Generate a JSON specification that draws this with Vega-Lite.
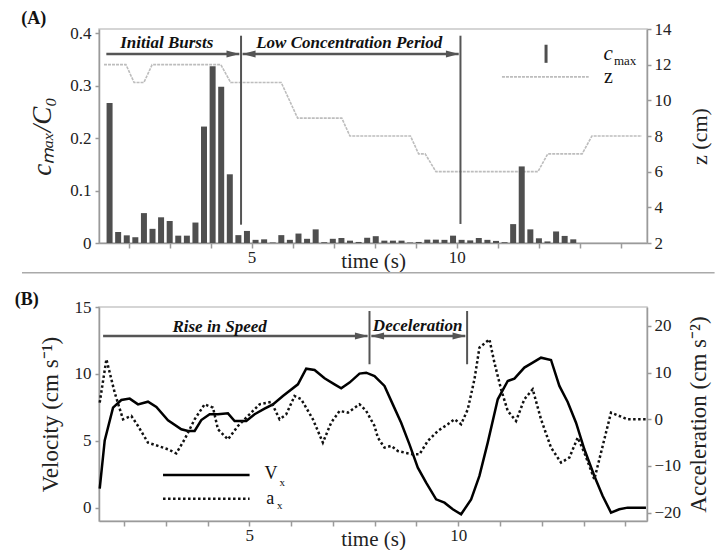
{
"$schema": "https://vega.github.io/schema/vega-lite/v6.json",
"background": "white",
"padding": {"left": 14, "top": 9, "right": 0, "bottom": 0},
"spacing": 15,
"datasets": {
"bars": [
{"t":1.536,"c":0.267},{"t":1.745,"c":0.021},{"t":1.955,"c":0.0146},{"t":2.164,"c":0.011},{"t":2.374,"c":0.057},{"t":2.583,"c":0.027},{"t":2.792,"c":0.049},{"t":3.002,"c":0.042},{"t":3.211,"c":0.014},{"t":3.421,"c":0.014},{"t":3.630,"c":0.039},{"t":3.839,"c":0.222},{"t":4.049,"c":0.337},{"t":4.258,"c":0.298},{"t":4.468,"c":0.131},{"t":4.677,"c":0.015},{"t":4.886,"c":0.023},{"t":5.096,"c":0.006},{"t":5.305,"c":0.007},{"t":5.515,"c":0.001},{"t":5.724,"c":0.015},{"t":5.933,"c":0.006},{"t":6.143,"c":0.018},{"t":6.352,"c":0.008},{"t":6.562,"c":0.026},{"t":6.771,"c":0.0015},{"t":6.980,"c":0.008},{"t":7.190,"c":0.0095},{"t":7.399,"c":0.0045},{"t":7.609,"c":0.002},{"t":7.818,"c":0.010},{"t":8.027,"c":0.013},{"t":8.237,"c":0.0045},{"t":8.446,"c":0.0045},{"t":8.656,"c":0.0045},{"t":8.865,"c":0.001},{"t":9.074,"c":0.002},{"t":9.284,"c":0.0064},{"t":9.493,"c":0.0064},{"t":9.703,"c":0.006},{"t":9.912,"c":0.014},{"t":10.121,"c":0.006},{"t":10.331,"c":0.005},{"t":10.540,"c":0.0095},{"t":10.750,"c":0.006},{"t":10.959,"c":0.004},{"t":11.168,"c":0.0015},{"t":11.378,"c":0.036},{"t":11.587,"c":0.146},{"t":11.797,"c":0.026},{"t":12.006,"c":0.009},{"t":12.215,"c":0.003},{"t":12.425,"c":0.022},{"t":12.634,"c":0.0135},{"t":12.844,"c":0.007}
],
"z": [
{"t":1.40,"z":12},{"t":1.935,"z":12},{"t":2.134,"z":11},{"t":2.373,"z":11},{"t":2.574,"z":12},{"t":4.249,"z":12},{"t":4.488,"z":11},{"t":5.722,"z":11},{"t":6.122,"z":9},{"t":7.199,"z":9},{"t":7.397,"z":8},{"t":8.873,"z":8},{"t":9.072,"z":7},{"t":9.232,"z":7},{"t":9.495,"z":6},{"t":11.983,"z":6},{"t":12.222,"z":7},{"t":13.06,"z":7},{"t":13.299,"z":8},{"t":14.52,"z":8}
],
"vx": [
{"t":1.417,"v":1.42},{"t":1.537,"v":5.03},{"t":1.736,"v":7.48},{"t":1.935,"v":8.05},{"t":2.135,"v":8.15},{"t":2.334,"v":7.72},{"t":2.573,"v":7.92},{"t":2.773,"v":7.53},{"t":3.052,"v":6.53},{"t":3.371,"v":5.86},{"t":3.530,"v":5.73},{"t":3.690,"v":5.73},{"t":3.849,"v":6.55},{"t":4.049,"v":6.98},{"t":4.248,"v":6.98},{"t":4.487,"v":7.05},{"t":4.647,"v":6.48},{"t":4.926,"v":6.48},{"t":5.125,"v":6.98},{"t":5.364,"v":7.40},{"t":5.564,"v":7.72},{"t":5.803,"v":8.35},{"t":6.162,"v":9.22},{"t":6.361,"v":10.39},{"t":6.561,"v":10.29},{"t":6.800,"v":9.67},{"t":7.039,"v":9.22},{"t":7.199,"v":8.92},{"t":7.398,"v":9.35},{"t":7.637,"v":10.02},{"t":7.797,"v":10.09},{"t":7.996,"v":9.84},{"t":8.235,"v":9.10},{"t":8.434,"v":7.72},{"t":8.634,"v":6.35},{"t":8.833,"v":4.73},{"t":9.033,"v":2.99},{"t":9.232,"v":1.87},{"t":9.471,"v":0.62},{"t":9.671,"v":0.37},{"t":9.870,"v":-0.12},{"t":10.069,"v":-0.50},{"t":10.309,"v":0.62},{"t":10.508,"v":2.37},{"t":10.707,"v":4.86},{"t":10.947,"v":8.10},{"t":11.186,"v":9.47},{"t":11.345,"v":9.64},{"t":11.584,"v":10.47},{"t":11.784,"v":10.84},{"t":11.983,"v":11.21},{"t":12.222,"v":11.04},{"t":12.422,"v":9.10},{"t":12.621,"v":7.90},{"t":12.821,"v":6.35},{"t":13.020,"v":4.36},{"t":13.259,"v":2.37},{"t":13.459,"v":0.87},{"t":13.658,"v":-0.37},{"t":13.857,"v":-0.12},{"t":14.057,"v":0},{"t":14.495,"v":0}
],
"ax": [
{"t":1.417,"a":3.57},{"t":1.577,"a":12.86},{"t":1.776,"a":5.71},{"t":1.975,"a":0},{"t":2.175,"a":0.71},{"t":2.334,"a":-1.43},{"t":2.573,"a":-5.0},{"t":2.813,"a":-5.71},{"t":3.052,"a":-6.43},{"t":3.251,"a":-7.29},{"t":3.450,"a":-4.29},{"t":3.690,"a":0},{"t":3.929,"a":3.21},{"t":4.129,"a":2.5},{"t":4.248,"a":-2.14},{"t":4.487,"a":-4.29},{"t":4.726,"a":-1.43},{"t":5.005,"a":1.07},{"t":5.245,"a":3.21},{"t":5.524,"a":3.71},{"t":5.723,"a":0},{"t":5.883,"a":1.07},{"t":6.082,"a":5.0},{"t":6.242,"a":4.29},{"t":6.521,"a":0},{"t":6.760,"a":-5.0},{"t":6.959,"a":-0.71},{"t":7.159,"a":1.79},{"t":7.358,"a":1.43},{"t":7.637,"a":3.21},{"t":7.797,"a":1.79},{"t":7.996,"a":-1.43},{"t":8.076,"a":-3.93},{"t":8.235,"a":-6.07},{"t":8.395,"a":-5.71},{"t":8.554,"a":-6.79},{"t":8.714,"a":-7.14},{"t":8.913,"a":-7.5},{"t":9.073,"a":-7.5},{"t":9.272,"a":-4.64},{"t":9.511,"a":-2.5},{"t":9.750,"a":-1.07},{"t":9.910,"a":0},{"t":10.069,"a":-1.07},{"t":10.229,"a":2.14},{"t":10.389,"a":8.57},{"t":10.508,"a":15.36},{"t":10.747,"a":17.14},{"t":10.867,"a":12.14},{"t":11.026,"a":6.43},{"t":11.186,"a":1.79},{"t":11.385,"a":-0.36},{"t":11.584,"a":4.29},{"t":11.784,"a":6.43},{"t":11.983,"a":0},{"t":12.222,"a":-6.07},{"t":12.462,"a":-9.29},{"t":12.661,"a":-8.21},{"t":12.861,"a":-3.93},{"t":13.020,"a":-7.14},{"t":13.259,"a":-12.86},{"t":13.419,"a":-7.14},{"t":13.658,"a":1.43},{"t":13.857,"a":0.71},{"t":14.057,"a":0},{"t":14.495,"a":0}
]
},
"vconcat": [
{
"width": 548, "height": 214,
"layer": [
{"data": {"name": "z"},
 "mark": {"type": "line", "color": "#bdbdbd", "strokeWidth": 1.6, "strokeDash": [3, 1]},
 "encoding": {
  "x": {"field": "t", "type": "quantitative", "scale": {"domain": [1.4, 14.52], "nice": false, "zero": false}},
  "y": {"field": "z", "type": "quantitative", "scale": {"domain": [2, 14], "nice": false, "zero": false},
        "axis": {"orient": "right", "values": [2,4,6,8,10,12,14], "title": "z (cm)", "titleAngle": 270, "titleBaseline": "top", "titlePadding": 18, "tickSize": 4, "labelPadding": 3}}
 }},
{"layer": [
 {"data": {"name": "bars"},
  "mark": {"type": "bar", "width": 6, "color": "#4f4f4f"},
  "encoding": {
   "x": {"field": "t", "type": "quantitative", "scale": {"domain": [1.4, 14.52], "nice": false, "zero": false},
         "axis": {"values": [2,3,4,5,6,7,8,9,10,11,12,13,14], "labelExpr": "datum.value == 5 || datum.value == 10 ? datum.label : ''", "title": "time (s)", "titleFontSize": 21, "titleBaseline": "top", "titleY": 7, "labelPadding": 1}},
   "y": {"field": "c", "type": "quantitative", "scale": {"domain": [0, 0.408], "nice": false},
         "axis": {"orient": "left", "values": [0, 0.1, 0.2, 0.3, 0.4], "format": ".1~f", "title": "cₘₐₓ/C₀", "titleFontSize": 27, "titleFontStyle": "italic", "titlePadding": 13, "tickSize": 4, "labelPadding": 4}}
  }},
 {"data": {"values": [{"t": 4.742, "y1": 0.3952, "y2": 0.0349}, {"t": 10.093, "y1": 0.3952, "y2": 0.0363}]},
  "mark": {"type": "rule", "color": "#555555", "strokeWidth": 2},
  "encoding": {"x": {"field": "t", "type": "quantitative"}, "y": {"field": "y1", "type": "quantitative"}, "y2": {"field": "y2"}}},
 {"data": {"values": [{"x1": 1.457, "x2": 4.70, "y": 0.3603}, {"x1": 4.78, "x2": 10.05, "y": 0.3603}]},
  "mark": {"type": "rule", "color": "#555555", "strokeWidth": 2.4},
  "encoding": {"x": {"field": "x1", "type": "quantitative"}, "x2": {"field": "x2"}, "y": {"field": "y", "type": "quantitative"}}},
 {"data": {"values": [{"t": 4.705, "y": 0.3603}, {"t": 10.056, "y": 0.3603}]},
  "mark": {"type": "point", "shape": "M0,0L-2,-0.55L-2,0.55Z", "size": 169, "filled": true, "color": "#555555", "opacity": 1},
  "encoding": {"x": {"field": "t", "type": "quantitative"}, "y": {"field": "y", "type": "quantitative"}}},
 {"data": {"values": [{"t": 4.779, "y": 0.3603}]},
  "mark": {"type": "point", "shape": "M0,0L2,-0.55L2,0.55Z", "size": 169, "filled": true, "color": "#555555", "opacity": 1},
  "encoding": {"x": {"field": "t", "type": "quantitative"}, "y": {"field": "y", "type": "quantitative"}}},
 {"data": {"values": [{"t": 2.93, "y": 0.3813, "label": "Initial Bursts"}, {"t": 7.38, "y": 0.3813, "label": "Low Concentration Period"}]},
  "mark": {"type": "text", "font": "Liberation Serif", "fontSize": 17, "fontWeight": "bold", "fontStyle": "italic", "color": "#111111", "baseline": "middle", "align": "center"},
  "encoding": {"x": {"field": "t", "type": "quantitative"}, "y": {"field": "y", "type": "quantitative"}, "text": {"field": "label"}}},
 {"data": {"values": [{"t": 12.18, "y1": 0.378, "y2": 0.3435}]},
  "mark": {"type": "rule", "color": "#4f4f4f", "strokeWidth": 3},
  "encoding": {"x": {"field": "t", "type": "quantitative"}, "y": {"field": "y1", "type": "quantitative"}, "y2": {"field": "y2"}}},
 {"data": {"values": [{"x1": 11.105, "x2": 13.22, "y": 0.3168}]},
  "mark": {"type": "rule", "color": "#bdbdbd", "strokeWidth": 1.6, "strokeDash": [3, 1]},
  "encoding": {"x": {"field": "x1", "type": "quantitative"}, "x2": {"field": "x2"}, "y": {"field": "y", "type": "quantitative"}}},
 {"data": {"values": [{"t": 13.579, "y": 0.3498, "label": "c"}]},
  "mark": {"type": "text", "font": "Liberation Serif", "fontSize": 21, "fontStyle": "italic", "color": "#111111", "baseline": "alphabetic", "align": "left"},
  "encoding": {"x": {"field": "t", "type": "quantitative"}, "y": {"field": "y", "type": "quantitative"}, "text": {"field": "label"}}},
 {"data": {"values": [{"t": 13.837, "y": 0.3403, "label": "max"}]},
  "mark": {"type": "text", "font": "Liberation Serif", "fontSize": 13, "color": "#111111", "baseline": "alphabetic", "align": "left"},
  "encoding": {"x": {"field": "t", "type": "quantitative"}, "y": {"field": "y", "type": "quantitative"}, "text": {"field": "label"}}},
 {"data": {"values": [{"t": 13.594, "y": 0.3053, "label": "z"}]},
  "mark": {"type": "text", "font": "Liberation Serif", "fontSize": 20, "color": "#111111", "baseline": "alphabetic", "align": "left"},
  "encoding": {"x": {"field": "t", "type": "quantitative"}, "y": {"field": "y", "type": "quantitative"}, "text": {"field": "label"}}},
 {"data": {"values": [{"t": -0.617, "y": 0.4166, "label": "(A)"}]},
  "mark": {"type": "text", "font": "Liberation Serif", "fontSize": 18, "fontWeight": "bold", "color": "#111111", "baseline": "alphabetic", "align": "left"},
  "encoding": {"x": {"field": "t", "type": "quantitative"}, "y": {"field": "y", "type": "quantitative"}, "text": {"field": "label"}}},
 {"data": {"values": [{"x1": -0.6, "x2": 16.29, "y": -0.0567}]},
  "mark": {"type": "rule", "color": "#aaaaaa", "strokeWidth": 1.5},
  "encoding": {"x": {"field": "x1", "type": "quantitative"}, "x2": {"field": "x2"}, "y": {"field": "y", "type": "quantitative"}}}
]}
],
"resolve": {"scale": {"y": "independent"}}
},
{
"width": 548, "height": 214,
"layer": [
{"layer": [
 {"data": {"name": "vx"},
  "mark": {"type": "line", "color": "#000000", "strokeWidth": 2.5},
  "encoding": {
   "x": {"field": "t", "type": "quantitative", "scale": {"domain": [1.4, 14.52], "nice": false, "zero": false},
         "axis": {"values": [2,3,4,5,6,7,8,9,10,11,12,13,14], "labelExpr": "datum.value == 5 || datum.value == 10 ? datum.label : ''", "title": "time (s)", "titleFontSize": 21, "titleBaseline": "top", "titleY": 7, "labelPadding": 1}},
   "y": {"field": "v", "type": "quantitative", "scale": {"domain": [-1, 15], "nice": false, "zero": false},
         "axis": {"orient": "left", "values": [0, 5, 10, 15], "title": "Velocity (cm s⁻¹)", "titleFontSize": 23, "titlePadding": 12, "tickSize": 4, "labelPadding": 4}}
  }},
 {"data": {"values": [{"t": 7.876, "y1": 14.7, "y2": 10.72}, {"t": 10.213, "y1": 14.7, "y2": 10.72}]},
  "mark": {"type": "rule", "color": "#555555", "strokeWidth": 2},
  "encoding": {"x": {"field": "t", "type": "quantitative"}, "y": {"field": "y1", "type": "quantitative"}, "y2": {"field": "y2"}}},
 {"data": {"values": [{"x1": 1.498, "x2": 7.83, "y": 12.83}, {"x1": 7.92, "x2": 10.17, "y": 12.83}]},
  "mark": {"type": "rule", "color": "#555555", "strokeWidth": 2.4},
  "encoding": {"x": {"field": "x1", "type": "quantitative"}, "x2": {"field": "x2"}, "y": {"field": "y", "type": "quantitative"}}},
 {"data": {"values": [{"t": 7.839, "y": 12.83}, {"t": 10.176, "y": 12.83}]},
  "mark": {"type": "point", "shape": "M0,0L-2,-0.55L-2,0.55Z", "size": 169, "filled": true, "color": "#555555", "opacity": 1},
  "encoding": {"x": {"field": "t", "type": "quantitative"}, "y": {"field": "y", "type": "quantitative"}}},
 {"data": {"values": [{"t": 7.913, "y": 12.83}]},
  "mark": {"type": "point", "shape": "M0,0L2,-0.55L2,0.55Z", "size": 169, "filled": true, "color": "#555555", "opacity": 1},
  "encoding": {"x": {"field": "t", "type": "quantitative"}, "y": {"field": "y", "type": "quantitative"}}},
 {"data": {"values": [{"t": 4.288, "y": 13.54, "label": "Rise in Speed"}, {"t": 9.03, "y": 13.58, "label": "Deceleration"}]},
  "mark": {"type": "text", "font": "Liberation Serif", "fontSize": 17, "fontWeight": "bold", "fontStyle": "italic", "color": "#111111", "baseline": "middle", "align": "center"},
  "encoding": {"x": {"field": "t", "type": "quantitative"}, "y": {"field": "y", "type": "quantitative"}, "text": {"field": "label"}}},
 {"data": {"values": [{"x1": 2.933, "x2": 5.005, "y": 2.44}]},
  "mark": {"type": "rule", "color": "#000000", "strokeWidth": 2.5},
  "encoding": {"x": {"field": "x1", "type": "quantitative"}, "x2": {"field": "x2"}, "y": {"field": "y", "type": "quantitative"}}},
 {"data": {"values": [{"x1": 2.933, "x2": 5.005, "y": 0.67}]},
  "mark": {"type": "rule", "color": "#111111", "strokeWidth": 2.5, "strokeDash": [2.5, 2.5]},
  "encoding": {"x": {"field": "x1", "type": "quantitative"}, "x2": {"field": "x2"}, "y": {"field": "y", "type": "quantitative"}}},
 {"data": {"values": [{"t": 5.364, "y": 2.12, "label": "V"}, {"t": 5.404, "y": 0.30, "label": "a"}]},
  "mark": {"type": "text", "font": "Liberation Serif", "fontSize": 18, "color": "#111111", "baseline": "alphabetic", "align": "left"},
  "encoding": {"x": {"field": "t", "type": "quantitative"}, "y": {"field": "y", "type": "quantitative"}, "text": {"field": "label"}}},
 {"data": {"values": [{"t": 5.72, "y": 1.62, "label": "x"}, {"t": 5.66, "y": -0.13, "label": "x"}]},
  "mark": {"type": "text", "font": "Liberation Serif", "fontSize": 11, "color": "#111111", "baseline": "alphabetic", "align": "left"},
  "encoding": {"x": {"field": "t", "type": "quantitative"}, "y": {"field": "y", "type": "quantitative"}, "text": {"field": "label"}}},
 {"data": {"values": [{"t": -0.617, "y": 15.13, "label": "(B)"}]},
  "mark": {"type": "text", "font": "Liberation Serif", "fontSize": 18, "fontWeight": "bold", "color": "#111111", "baseline": "alphabetic", "align": "left"},
  "encoding": {"x": {"field": "t", "type": "quantitative"}, "y": {"field": "y", "type": "quantitative"}, "text": {"field": "label"}}}
]},
{"data": {"name": "ax"},
 "mark": {"type": "line", "color": "#111111", "strokeWidth": 2.5, "strokeDash": [2.5, 2.5]},
 "encoding": {
  "x": {"field": "t", "type": "quantitative", "scale": {"domain": [1.4, 14.52], "nice": false, "zero": false}},
  "y": {"field": "a", "type": "quantitative", "scale": {"domain": [-21.8, 24.07], "nice": false, "zero": false},
        "axis": {"orient": "right", "values": [-20, -10, 0, 10, 20], "title": "Acceleration (cm s⁻²)", "titleFontSize": 23, "titleAngle": 270, "titleBaseline": "top", "titlePadding": 7, "tickSize": 4, "labelPadding": 3}}
 }}
],
"resolve": {"scale": {"y": "independent"}}
}
],
"config": {
 "font": "Liberation Serif",
 "view": {"stroke": "#c8c8c8", "strokeWidth": 1.5},
 "axis": {"domainColor": "#9a9a9a", "tickColor": "#9a9a9a", "domainWidth": 1.5, "tickWidth": 1.5, "tickSize": 5, "labelColor": "#222222", "titleColor": "#222222", "labelFont": "Liberation Serif", "titleFont": "Liberation Serif", "labelFontSize": 17, "titleFontSize": 22, "titleFontWeight": "normal", "grid": false, "labelFlush": false, "labelOverlap": false}
}
}
